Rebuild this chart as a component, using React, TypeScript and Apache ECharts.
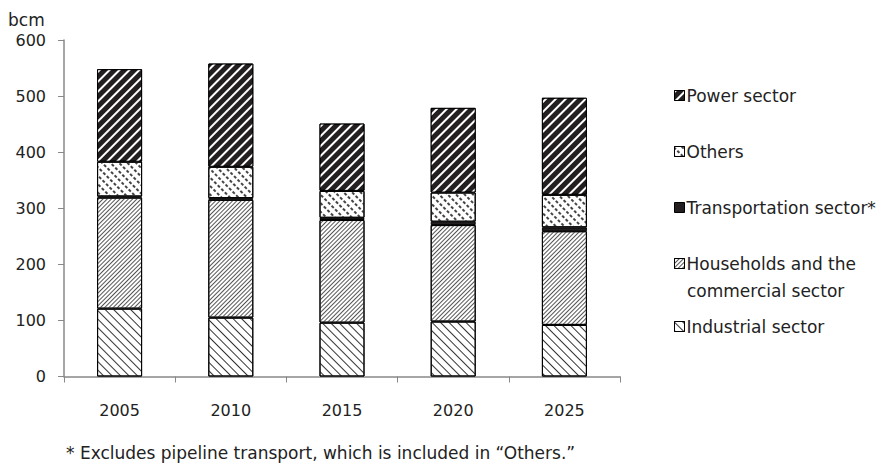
import React, { useEffect, useRef } from "react";
import * as echarts from "echarts";

// Natural gas demand by sector (bcm)
const years = ["2005", "2010", "2015", "2020", "2025"];
const industrial = [121, 105, 96, 98, 92];
const households = [198, 210, 183, 172, 167];
const transportation = [2, 3, 4, 6, 7];
const others = [62, 56, 48, 52, 58];
const power = [165, 184, 120, 151, 173];

const yTicks = [0, 100, 200, 300, 400, 500, 600];

const FONT = "DejaVu Sans, Verdana, sans-serif";
const DARK = "#231f20";
const TEXT = "#222";

const seriesDefs = [
  {
    name: "Industrial sector",
    data: industrial,
    color: "#ffffff",
    decal: { symbol: "rect", symbolSize: 1, color: "#333", dashArrayX: [1, 0], dashArrayY: [0.8, 4.2], rotation: Math.PI / 4 },
  },
  {
    name: "Households and the commercial sector",
    data: households,
    color: "#ffffff",
    decal: { symbol: "rect", symbolSize: 1, color: "#555", dashArrayX: [1, 0], dashArrayY: [1, 1.4], rotation: -Math.PI / 4 },
  },
  {
    name: "Transportation sector*",
    data: transportation,
    color: DARK,
    decal: null,
  },
  {
    name: "Others",
    data: others,
    color: "#ffffff",
    decal: { symbol: "rect", symbolSize: 1, color: "#444", dashArrayX: [2.5, 1.5], dashArrayY: [1.2, 3.3], rotation: Math.PI / 4 },
  },
  {
    name: "Power sector",
    data: power,
    color: DARK,
    decal: { symbol: "rect", symbolSize: 1, color: "#ffffff", dashArrayX: [1, 0], dashArrayY: [1.4, 4.4], rotation: -Math.PI / 4 },
  },
];

// legend rows on the right, top to bottom
const legendRows = [
  { name: "Power sector", top: 87, label: "Power sector" },
  { name: "Others", top: 143, label: "Others" },
  { name: "Transportation sector*", top: 199, label: "Transportation sector*" },
  { name: "Households and the commercial sector", top: 255, label: "Households and the" },
  { name: "Industrial sector", top: 318, label: "Industrial sector" },
];

export default function App() {
  const ref = useRef<HTMLDivElement>(null);

  useEffect(() => {
    if (!ref.current) return;
    const chart = echarts.init(ref.current, null, { renderer: "svg" });

    const series = seriesDefs.map((s) => ({
      name: s.name,
      type: "bar",
      stack: "total",
      barWidth: 45,
      data: s.data,
      itemStyle: {
        color: s.color,
        borderColor: "#000",
        borderWidth: 1,
        ...(s.decal ? { decal: s.decal } : {}),
      },
      emphasis: { disabled: true },
    }));

    const legends = legendRows.map((r) => ({
      data: [{ name: r.name, icon: "rect" }],
      left: 674,
      top: r.top,
      orient: "vertical",
      itemWidth: 10,
      itemHeight: 10,
      itemGap: 0,
      padding: 0,
      selectedMode: false,
      formatter: () => r.label,
      itemStyle: { borderColor: "#000", borderWidth: 1 },
      textStyle: { fontFamily: FONT, fontSize: 17, color: TEXT, padding: [0, 0, 0, -3] },
    }));

    chart.setOption({
      animation: false,
      aria: { enabled: false, decal: { show: false } },
      grid: { left: 64, right: 261, top: 40, bottom: 87.5, containLabel: false },
      xAxis: {
        type: "category",
        data: years,
        axisLine: { lineStyle: { color: "#888", width: 1.5 } },
        axisTick: { show: true, length: 6, lineStyle: { color: "#888" } },
        axisLabel: { fontFamily: FONT, fontSize: 16, color: TEXT, margin: 26 },
      },
      yAxis: {
        type: "value",
        min: yTicks[0],
        max: yTicks[yTicks.length - 1],
        interval: 100,
        axisLine: { show: true, lineStyle: { color: "#888", width: 1.5 } },
        axisTick: { show: true, length: 6, lineStyle: { color: "#888" } },
        splitLine: { show: false },
        axisLabel: { fontFamily: FONT, fontSize: 16, color: TEXT, margin: 18 },
      },
      legend: legends,
      series,
      graphic: [
        {
          type: "text",
          left: 8,
          top: 11,
          style: { text: "bcm", fontFamily: FONT, fontSize: 17, fill: TEXT },
        },
        {
          type: "text",
          left: 687,
          top: 282,
          style: { text: "commercial sector", fontFamily: FONT, fontSize: 17, fill: TEXT },
        },
        {
          type: "text",
          left: 66,
          top: 444,
          style: {
            text: "* Excludes pipeline transport, which is included in \u201cOthers.\u201d",
            fontFamily: FONT,
            fontSize: 17,
            fill: TEXT,
          },
        },
      ],
    });

    return () => chart.dispose();
  }, []);

  return <div ref={ref} style={{ width: 881, height: 464, position: "absolute", left: 0, top: 0 }} />;
}
